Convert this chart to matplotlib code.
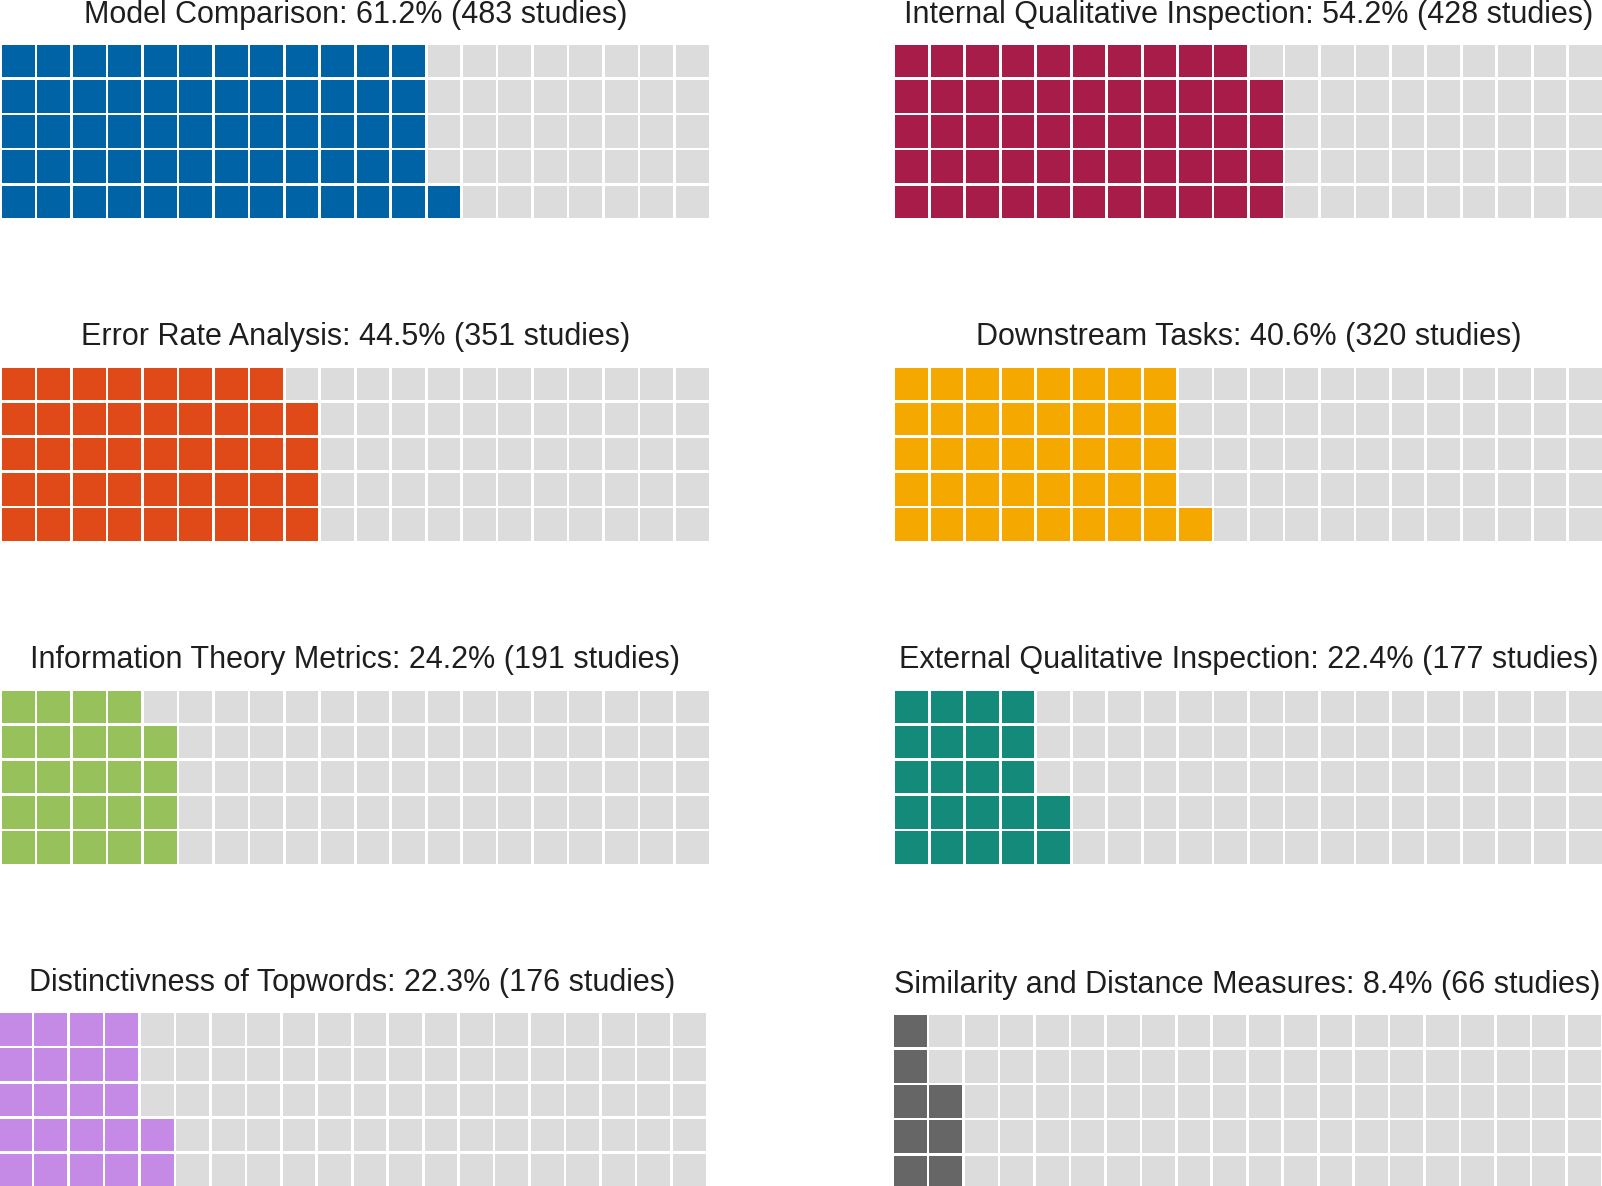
import matplotlib
matplotlib.use('Agg')
import matplotlib.pyplot as plt
from matplotlib.patches import Rectangle

# study counts per evaluation method (out of 789 studies)
TOTAL_STUDIES = 789
categories = ['Model Comparison', 'Internal Qualitative Inspection',
              'Error Rate Analysis', 'Downstream Tasks',
              'Information Theory Metrics', 'External Qualitative Inspection',
              'Distinctivness of Topwords', 'Similarity and Distance Measures']
counts = [483, 428, 351, 320, 191, 177, 176, 66]
colors = ['#0063A6', '#A71C48', '#E04A18', '#F5A800',
          '#97C15A', '#138A7A', '#C58AE6', '#666666']
EMPTY = '#DCDCDC'

N_ROWS = 5
N_COLS = 20
GAP = 0.077

W, H = 1602, 1186
fig = plt.figure(figsize=(W / 100, H / 100), dpi=100)
plt.rcParams['font.family'] = ['Liberation Sans', 'DejaVu Sans']

# grid placement in pixels: (left, top) of each waffle
grid_w, grid_h = 706.5, 173
positions = [(2, 45), (895.3, 45),
             (2, 367.7), (895.3, 367.7),
             (2, 690.7), (895.3, 690.7),
             (-1, 1013.3), (894, 1015)]

for i, name in enumerate(categories):
    left, top = positions[i]
    ax = fig.add_axes([left / W, 1 - (top + grid_h) / H, grid_w / W, grid_h / H])
    pct = counts[i] / TOTAL_STUDIES * 100
    filled = round(pct)
    # fill column by column, bottom to top
    for k in range(N_ROWS * N_COLS):
        col = k // N_ROWS
        row = k % N_ROWS
        c = colors[i] if k < filled else EMPTY
        ax.add_patch(Rectangle((col, row), 1 - GAP, 1 - GAP, facecolor=c, linewidth=0))
    ax.set_xlim(0, N_COLS - GAP)
    ax.set_ylim(0, N_ROWS - GAP)
    ax.axis('off')
    ax.set_title('%s: %.1f%% (%d studies)' % (name, pct, counts[i]),
                 fontsize=22, color='#1e1e1e', pad=16.2)

fig.savefig('out.png', dpi=100)
